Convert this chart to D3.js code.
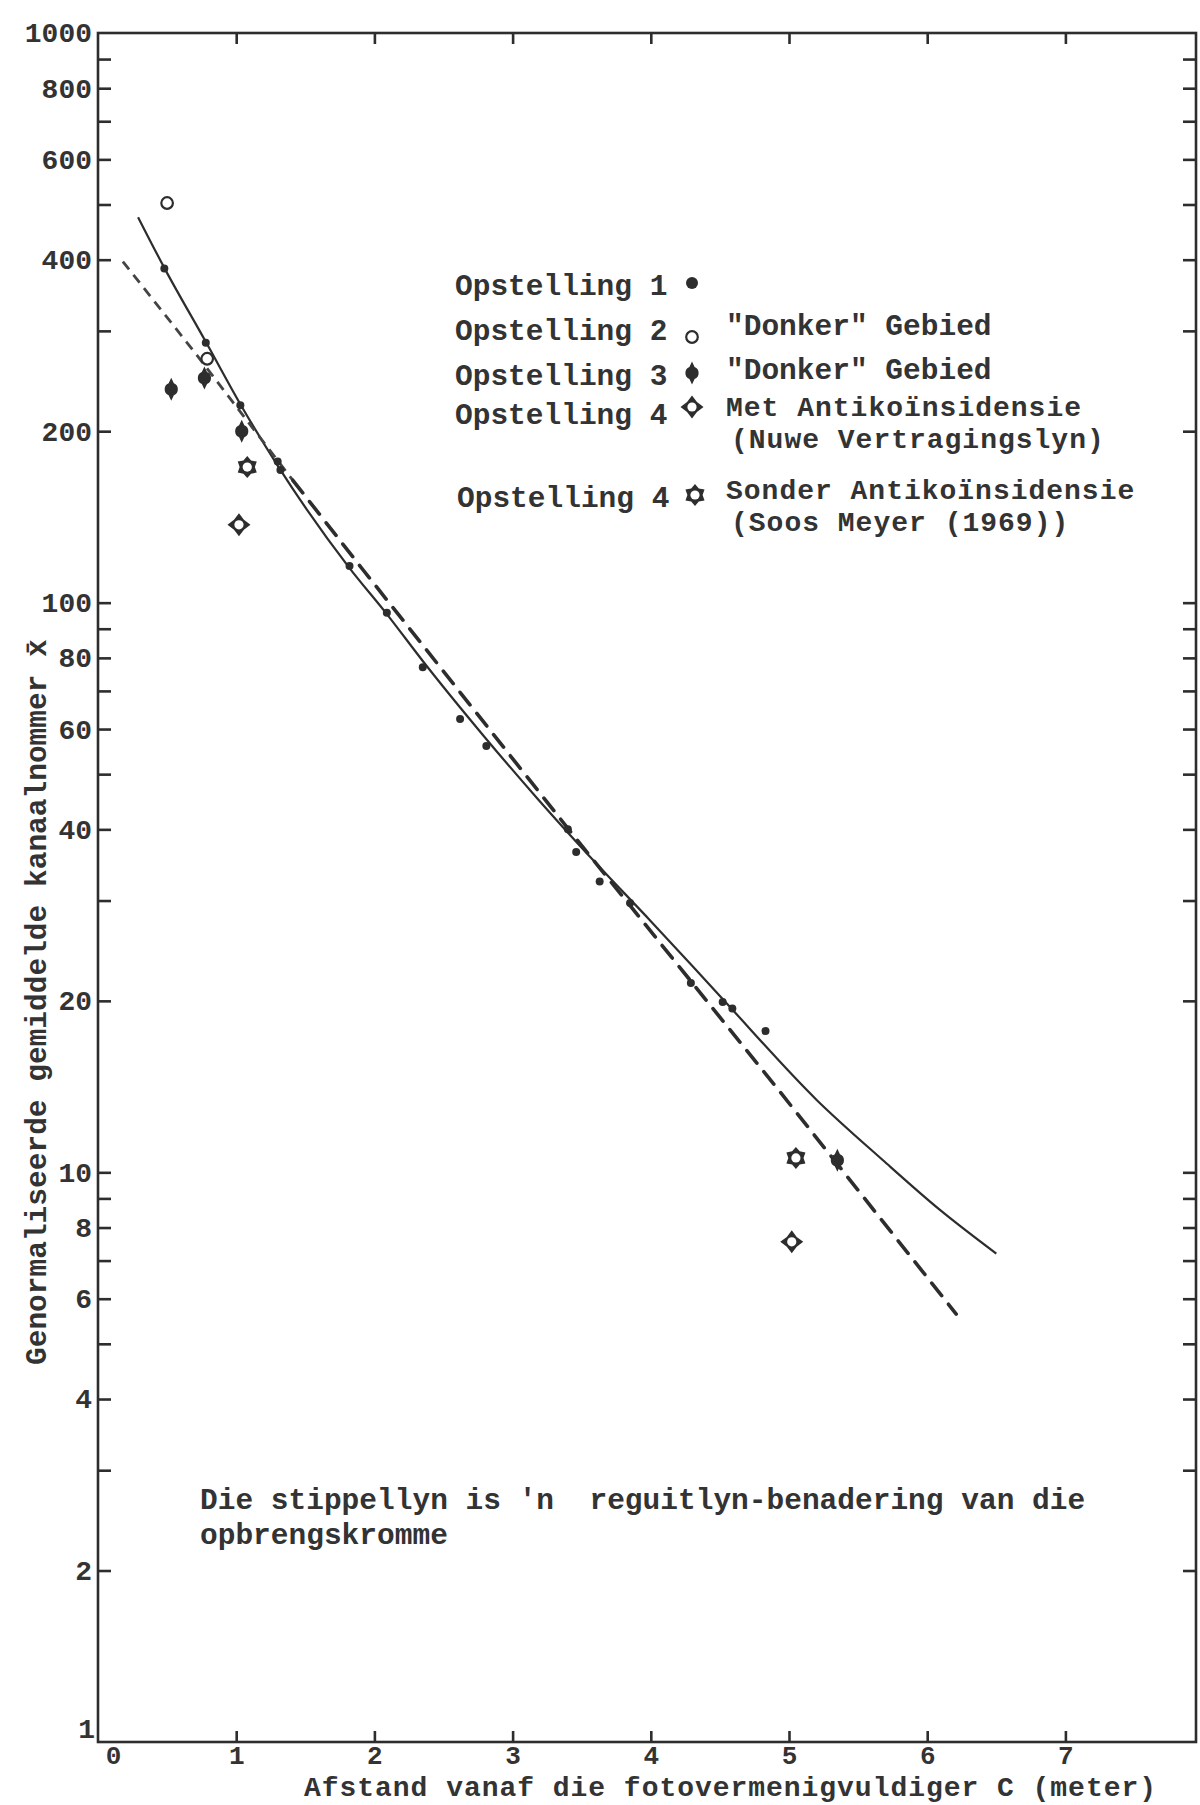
<!DOCTYPE html>
<html><head><meta charset="utf-8">
<script src="https://cdn.jsdelivr.net/npm/d3@7"></script>
<style>
html,body{margin:0;padding:0;background:#fff;}
svg{display:block;background:#fff;}
text{font-family:"Liberation Mono","Courier New",monospace;font-weight:bold;fill:#333;}
</style></head><body>
<svg id="c" width="1200" height="1805"></svg>
<script>
// ---------- data ----------
const xTickValues = [0, 1, 2, 3, 4, 5, 6, 7];
const yTickValues = [2,3,4,5,6,7,8,9,10,20,30,40,50,60,70,80,90,100,200,300,400,500,600,700,800,900];
const yTickLabels = [1,2,4,6,8,10,20,40,60,80,100,200,400,600,800,1000];

// Opstelling 1 (filled dots)
const opst1 = [[0.48,386],[0.78,286],[1.03,222],[1.30,177],[1.32,171],[1.82,116],[2.09,96],[2.35,77],
               [2.62,62.5],[2.81,56],[3.40,40],[3.46,36.5],[3.63,32.4],[3.85,29.7],[4.29,21.5],
               [4.52,19.9],[4.59,19.4],[4.83,17.7]];
// Opstelling 2 "Donker" Gebied (open circles)
const opst2 = [[0.50,503],[0.79,268]];
// Opstelling 3 "Donker" Gebied (filled, pointed)
const opst3 = [[0.53,237],[0.77,248],[1.04,200],[5.35,10.5]];
// Opstelling 4 Met Antikoinsidensie (diamond)
const opst4Met = [[1.02,137],[5.02,7.55]];
// Opstelling 4 Sonder Antikoinsidensie (star)
const opst4Sonder = [[1.08,173],[5.05,10.6]];

// Yield curve (solid) and straight-line approximation (dashed)
const solidCurve = [[0.29,475],[0.48,387],[0.78,287],[1.03,223],[1.30,174],[1.82,115],[2.09,95.5],
                    [2.35,79],[2.80,58],[3.19,45.0],[3.56,35.8],[4.00,27.6],[4.50,20.4],[5.20,13.4],
                    [5.68,10.5],[6.09,8.6],[6.50,7.2]];
const dashedLineTop = [[0.18,397],[0.71,273],[1.41,164]];
const dashedLineMain = [[1.41,164],[1.92,114],[3.42,39.6],[4.95,13.7],[6.21,5.64]];

const legendRows = [
  {label:"Opstelling 1", marker:"opst1", desc:[]},
  {label:"Opstelling 2", marker:"opst2", desc:["\"Donker\" Gebied"]},
  {label:"Opstelling 3", marker:"opst3", desc:["\"Donker\" Gebied"]},
  {label:"Opstelling 4", marker:"met",   desc:["Met Antikoïnsidensie","(Nuwe Vertragingslyn)"]},
  {label:"Opstelling 4", marker:"sonder",desc:["Sonder Antikoïnsidensie","(Soos Meyer (1969))"]}
];
const noteLines = ["Die stippellyn is 'n  reguitlyn-benadering van die", "opbrengskromme"];
const xTitle = "Afstand vanaf die fotovermenigvuldiger C (meter)";
const yTitle = "Genormaliseerde gemiddelde kanaalnommer x\u0304";

// ---------- layout ----------
const INK = "#2d2d2d";
const X0 = 98, X1 = 1196, YT = 33, YB = 1742;
const x = d3.scaleLinear().domain([0, 7.945]).range([X0, X1]);
const y = d3.scaleLog().domain([1, 1000]).range([YB, YT]);

const svg = d3.select("#c");

// frame
svg.append("rect").attr("x", X0).attr("y", YT).attr("width", X1 - X0).attr("height", YB - YT)
  .attr("fill", "none").attr("stroke", INK).attr("stroke-width", 2.6);

function styleAxis(g, fs) {
  g.select(".domain").remove();
  g.selectAll(".tick line").attr("stroke", INK).attr("stroke-width", 2.6);
  g.selectAll("text").attr("fill", "#333").attr("font-size", fs || 28)
    .attr("font-family", "'Liberation Mono','Courier New',monospace").attr("font-weight", "bold");
}

// left axis with labels
const yLeft = svg.append("g").attr("transform", `translate(${X0},0)`)
  .call(d3.axisLeft(y).tickValues(yTickValues.concat([1,1000])).tickSize(-13).tickPadding(6)
        .tickFormat(v => yTickLabels.includes(v) ? String(v) : ""));
styleAxis(yLeft, 28);
yLeft.selectAll(".tick").filter(d => d === 1 || d === 1000).select("line").remove();
yLeft.selectAll(".tick").filter(d => d === 1).select("text").attr("dy", "-0.15em").attr("x", -3);

// right axis (ticks only)
const yRight = svg.append("g").attr("transform", `translate(${X1},0)`)
  .call(d3.axisRight(y).tickValues(yTickValues).tickSize(-13).tickFormat(""));
styleAxis(yRight);

// bottom axis
const xBottom = svg.append("g").attr("transform", `translate(0,${YB})`)
  .call(d3.axisBottom(x).tickValues(xTickValues).tickSize(-11).tickPadding(4).tickFormat(d3.format("d")));
styleAxis(xBottom, 26);
xBottom.selectAll(".tick").filter(d => d === 0).select("line").remove();
xBottom.selectAll(".tick").filter(d => d === 0).select("text").attr("dx", 15);

// top axis (ticks only)
const xTop = svg.append("g").attr("transform", `translate(0,${YT})`)
  .call(d3.axisTop(x).tickValues(xTickValues.slice(1)).tickSize(-11).tickFormat(""));
styleAxis(xTop);

// curves
const line = d3.line().x(d => x(d[0])).y(d => y(d[1]));
svg.append("path").datum(solidCurve)
  .attr("d", line.curve(d3.curveMonotoneX)).attr("fill", "none")
  .attr("stroke", INK).attr("stroke-width", 2.2);
const lineLin = d3.line().x(d => x(d[0])).y(d => y(d[1]));
svg.append("path").datum(dashedLineTop).attr("d", lineLin).attr("fill", "none")
  .attr("stroke", "#444").attr("stroke-width", 2.8).attr("stroke-dasharray", "10,7");
svg.append("path").datum(dashedLineMain).attr("d", lineLin).attr("fill", "none")
  .attr("stroke", INK).attr("stroke-width", 3.6).attr("stroke-dasharray", "16,11").attr("stroke-linecap", "round");

// marker shapes
function starPath(n, R, r) {
  const pts = [];
  for (let i = 0; i < 2 * n; i++) {
    const a = -Math.PI / 2 + i * Math.PI / n;
    const rad = i % 2 === 0 ? R : r;
    pts.push([rad * Math.cos(a), rad * Math.sin(a)]);
  }
  return "M" + pts.map(p => p[0].toFixed(2) + "," + p[1].toFixed(2)).join("L") + "Z";
}
function drawMarker(g, type, scale) {
  const s = scale || 1;
  if (type === "opst1") {
    g.append("circle").attr("r", 4 * s).attr("fill", INK);
  } else if (type === "opst2") {
    g.append("circle").attr("r", 5.8 * s).attr("fill", "#fff").attr("stroke", INK).attr("stroke-width", 2.2);
  } else if (type === "opst3") {
    g.append("path").attr("transform", `scale(${s})`)
      .attr("d", "M0,-11.5L2.6,-6A6.5,6.5 0 0 1 2.6,6L0,11.5L-2.6,6A6.5,6.5 0 0 1 -2.6,-6Z")
      .attr("fill", INK);
  } else if (type === "met") {
    g.append("path").attr("transform", `scale(${s})`).attr("d", starPath(4, 11.5, 7)).attr("fill", INK);
    g.append("circle").attr("r", 4.6 * s).attr("fill", "#fff");
  } else if (type === "sonder") {
    g.append("path").attr("transform", `scale(${s})`).attr("d", starPath(6, 11, 7.6)).attr("fill", INK);
    g.append("circle").attr("r", 4.6 * s).attr("fill", "#fff");
  }
}
function plotSeries(data, type) {
  const gs = svg.append("g").selectAll("g").data(data).join("g")
    .attr("transform", d => `translate(${x(d[0])},${y(d[1])})`);
  gs.each(function () { drawMarker(d3.select(this), type, 1); });
}
plotSeries(opst1, "opst1");
plotSeries(opst2, "opst2");
plotSeries(opst3, "opst3");
plotSeries(opst4Met, "met");
plotSeries(opst4Sonder, "sonder");

// legend
const legendX = 455, markerX = 692, descX = 726;
const rowLayout = [
  {ty: 295, my: 283, dy: [335]},
  {ty: 340, my: 337, dy: [335]},
  {ty: 385, my: 373, dy: [379]},
  {ty: 424, my: 407, dy: [416, 448]},
  {ty: 507, my: 495, dy: [499, 531]}
];
const CH = 17.75; // monospace advance per character in the reference
const lg = svg.append("g");
legendRows.forEach((r, i) => {
  const L = rowLayout[i];
  lg.append("text").attr("x", legendX + (i === 4 ? 2 : 0)).attr("y", L.ty).attr("font-size", 29.5).text(r.label);
  const mg = lg.append("g").attr("transform", `translate(${markerX + (i === 4 ? 3 : 0)},${L.my})`);
  drawMarker(mg, r.marker, r.marker === "opst1" ? 1.5 : 1);
  const two = r.desc.length > 1;
  r.desc.forEach((t, j) => {
    const tx = lg.append("text").attr("x", descX + (j === 1 ? 5 : 0)).attr("y", L.dy[j])
      .attr("font-size", two ? 28 : 29.5).text(t);
    if (two) tx.attr("textLength", t.length * CH).attr("lengthAdjust", "spacing");
  });
});

// note
noteLines.forEach((t, i) => {
  svg.append("text").attr("x", 200).attr("y", 1509 + i * 35).attr("font-size", 29.5)
    .style("white-space", "pre").text(t);
});

// axis titles
svg.append("text").attr("x", 304).attr("y", 1796).attr("font-size", 28)
  .attr("textLength", xTitle.length * CH).attr("lengthAdjust", "spacing").text(xTitle);
svg.append("text").attr("transform", "translate(46,1365) rotate(-90)").attr("font-size", 29.5).text(yTitle);
</script>
</body></html>
